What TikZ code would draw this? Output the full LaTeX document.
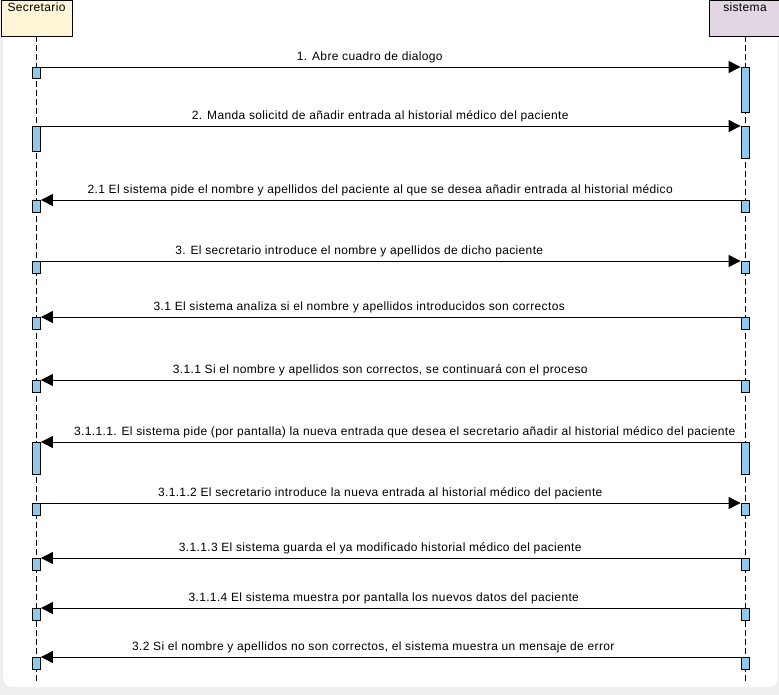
\documentclass[tikz,border=0pt]{standalone}
\usepackage{fontspec}
\setmainfont[LetterSpace=3]{Liberation Sans}
\usetikzlibrary{arrows.meta,positioning,backgrounds}
\definecolor{secfill}{RGB}{253,245,214}
\definecolor{sysfill}{RGB}{226,214,226}
\definecolor{barfill}{RGB}{143,201,235}
\definecolor{bggray}{RGB}{238,238,238}

\begin{document}
\begin{tikzpicture}[x=1pt,y=-1pt,>={Triangle[length=12pt,width=12pt]},
  font=\fontsize{12}{14}\selectfont]
\tikzstyle{actor} = [draw = black, rectangle, minimum width = 71pt, minimum height = 36pt, inner sep = 0pt]
\tikzstyle{life} = [dash pattern = on 6pt off 3pt, line width = 0.9pt]
\tikzstyle{bar} = [draw = black, fill = barfill, rectangle, anchor = north, minimum width = 8pt, inner sep = 0pt, line width = 0.8pt]
\tikzstyle{msg} = [->, line width = 0.9pt]
\tikzstyle{lbl} = [above, inner sep = 4pt, pos = 0.485]

\useasboundingbox (0,0) rectangle (779,695);
\fill[bggray] (0,0) rectangle (779,695);
\fill[white, rounded corners = 9pt] (3,-10) rectangle (778,687);

% actors
\node[actor, fill = secfill] (sec) at (36.5,18) {};
\node[anchor = north, inner sep = 2.5pt] (secname) at (sec.north) {Secretario};
\node[actor, fill = sysfill] (sys) at (745,18) {};
\node[anchor = north, inner sep = 2.5pt] (sysname) at (sys.north) {sistema};

% lifelines
\coordinate (secend) at (36.5,682);
\coordinate (sysend) at (745,682);
\draw[life] (sec.south) -- (secend);
\draw[life] (sys.south) -- (sysend);

% activation bars
\node[bar, minimum height = 11pt] (s1)  at (36.5,67)  {};
\node[bar, minimum height = 45pt] (y1)  at (745,67)   {};
\node[bar, minimum height = 25pt] (s2)  at (36.5,126) {};
\node[bar, minimum height = 32pt] (y2)  at (745,126)  {};
\node[bar, minimum height = 12pt] (s21) at (36.5,200) {};
\node[bar, minimum height = 12pt] (y21) at (745,200)  {};
\node[bar, minimum height = 12pt] (s3)  at (36.5,261) {};
\node[bar, minimum height = 12pt] (y3)  at (745,261)  {};
\node[bar, minimum height = 12pt] (s31) at (36.5,317) {};
\node[bar, minimum height = 12pt] (y31) at (745,317)  {};
\node[bar, minimum height = 12pt] (s311) at (36.5,380) {};
\node[bar, minimum height = 12pt] (y311) at (745,380)  {};
\node[bar, minimum height = 32pt] (s3111) at (36.5,442) {};
\node[bar, minimum height = 32pt] (y3111) at (745,442)  {};
\node[bar, minimum height = 12pt] (s3112) at (36.5,503) {};
\node[bar, minimum height = 12pt] (y3112) at (745,503)  {};
\node[bar, minimum height = 12pt] (s3113) at (36.5,558) {};
\node[bar, minimum height = 12pt] (y3113) at (745,558)  {};
\node[bar, minimum height = 12pt] (s3114) at (36.5,608) {};
\node[bar, minimum height = 12pt] (y3114) at (745,608)  {};
\node[bar, minimum height = 12pt] (s32) at (36.5,657) {};
\node[bar, minimum height = 12pt] (y32) at (745,657)  {};

% messages
\draw[msg] (s1.north east) -- node[lbl, pos = 0.47]{1. Abre cuadro de dialogo} (y1.north west);
\draw[msg] (s2.north east) -- node[lbl]{2. Manda solicitd de añadir entrada al historial médico del paciente} (y2.north west);
\draw[msg] (y21.north west) -- node[lbl, pos = 0.515]{2.1 El sistema pide el nombre y apellidos del paciente al que se desea añadir entrada al historial médico} (s21.north east);
\draw[msg] (s3.north east) -- node[lbl, pos = 0.455]{3. El secretario introduce el nombre y apellidos de dicho paciente} (y3.north west);
\draw[msg] (y31.north west) -- node[lbl, pos = 0.545]{3.1 El sistema analiza si el nombre y apellidos introducidos son correctos} (s31.north east);
\draw[msg] (y311.north west) -- node[lbl, pos = 0.515]{3.1.1 Si el nombre y apellidos son correctos, se continuará con el proceso} (s311.north east);
\draw[msg] (y3111.north west) -- node[lbl, pos = 0.48]{3.1.1.1. El sistema pide (por pantalla) la nueva entrada que desea el secretario añadir al historial médico del paciente} (s3111.north east);
\draw[msg] (s3112.north east) -- node[lbl]{3.1.1.2 El secretario introduce la nueva entrada al historial médico del paciente} (y3112.north west);
\draw[msg] (y3113.north west) -- node[lbl, pos = 0.515]{3.1.1.3 El sistema guarda el ya modificado historial médico del paciente} (s3113.north east);
\draw[msg] (y3114.north west) -- node[lbl, pos = 0.51]{3.1.1.4 El sistema muestra por pantalla los nuevos datos del paciente} (s3114.north east);
\draw[msg] (y32.north west) -- node[lbl, pos = 0.525]{3.2 Si el nombre y apellidos no son correctos, el sistema muestra un mensaje de error} (s32.north east);
\end{tikzpicture}
\end{document}
